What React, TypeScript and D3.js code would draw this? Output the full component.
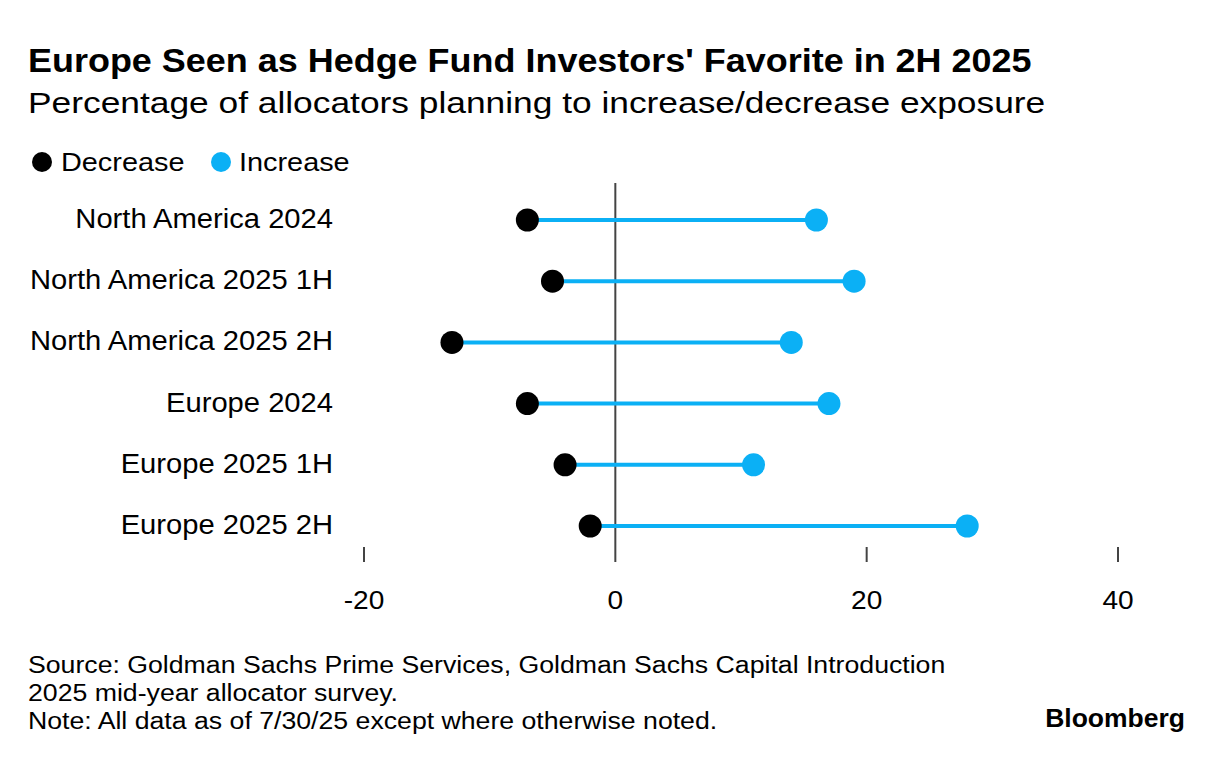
import * as d3 from 'd3'

const categories = [
  'North America 2024',
  'North America 2025 1H',
  'North America 2025 2H',
  'Europe 2024',
  'Europe 2025 1H',
  'Europe 2025 2H',
]
const decreaseValues = [-7, -5, -13, -7, -4, -2]
const increaseValues = [16, 19, 14, 17, 11, 28]
const tickValues = [-20, 0, 20, 40]
const footerLines = [
  'Source: Goldman Sachs Prime Services, Goldman Sachs Capital Introduction',
  '2025 mid-year allocator survey.',
  'Note: All data as of 7/30/25 except where otherwise noted.',
]

const WIDTH = 1223
const HEIGHT = 762
const FONT = '"Liberation Sans", Arial, sans-serif'
const BLUE = '#0bb0f5'

// the Bloomberg face is wider than Arial, so stretch text horizontally
function Txt({
  x,
  y,
  size,
  sx = 1,
  anchor = 'start',
  weight = 400,
  children,
}: {
  x: number
  y: number
  size: number
  sx?: number
  anchor?: 'start' | 'middle' | 'end'
  weight?: number
  children: React.ReactNode
}) {
  return (
    <text
      transform={`translate(${x},${y}) scale(${sx},1)`}
      fontSize={size}
      fontWeight={weight}
      textAnchor={anchor}
      fill="#000"
    >
      {children}
    </text>
  )
}

export default function App() {
  const x = d3.scaleLinear().domain([-20, 40]).range([364, 1118])
  const y = d3.scalePoint<string>().domain(categories).range([220, 526])

  return (
    <svg
      width={WIDTH}
      height={HEIGHT}
      style={{ position: 'absolute', left: 0, top: 0, background: '#fff' }}
      fontFamily={FONT}
    >
      <Txt x={28} y={72} size={33} sx={1.09} weight={700}>
        Europe Seen as Hedge Fund Investors' Favorite in 2H 2025
      </Txt>
      <Txt x={28} y={113} size={30} sx={1.178}>
        Percentage of allocators planning to increase/decrease exposure
      </Txt>

      {/* legend */}
      <circle cx={42} cy={162} r={10} fill="#000" />
      <Txt x={61} y={171} size={26} sx={1.11}>Decrease</Txt>
      <circle cx={221} cy={162} r={10} fill={BLUE} />
      <Txt x={239} y={171} size={26} sx={1.11}>Increase</Txt>

      {/* zero line */}
      <line x1={x(0)} x2={x(0)} y1={183} y2={562} stroke="#444" strokeWidth={2} />

      {/* ticks */}
      {tickValues.map((t) => (
        <g key={t}>
          {t !== 0 && (
            <line x1={x(t)} x2={x(t)} y1={547} y2={562} stroke="#444" strokeWidth={2} />
          )}
          <Txt x={x(t)} y={609} size={26} sx={1.08} anchor="middle">
            {t}
          </Txt>
        </g>
      ))}

      {categories.map((c, i) => {
        const cy = y(c) ?? 0
        return (
          <g key={c}>
            <Txt x={333} y={cy + 8} size={27} sx={1.08} anchor="end">
              {c}
            </Txt>
            <line
              x1={x(decreaseValues[i])}
              x2={x(increaseValues[i])}
              y1={cy}
              y2={cy}
              stroke={BLUE}
              strokeWidth={4}
            />
            <circle cx={x(decreaseValues[i])} cy={cy} r={11.5} fill="#000" />
            <circle cx={x(increaseValues[i])} cy={cy} r={11.5} fill={BLUE} />
          </g>
        )
      })}

      {/* footer */}
      {footerLines.map((line, i) => (
        <Txt key={i} x={28} y={673 + i * 28} size={23} sx={1.16}>
          {line}
        </Txt>
      ))}
      <Txt x={1185} y={727} size={25} sx={1.06} weight={700} anchor="end">
        Bloomberg
      </Txt>
    </svg>
  )
}
